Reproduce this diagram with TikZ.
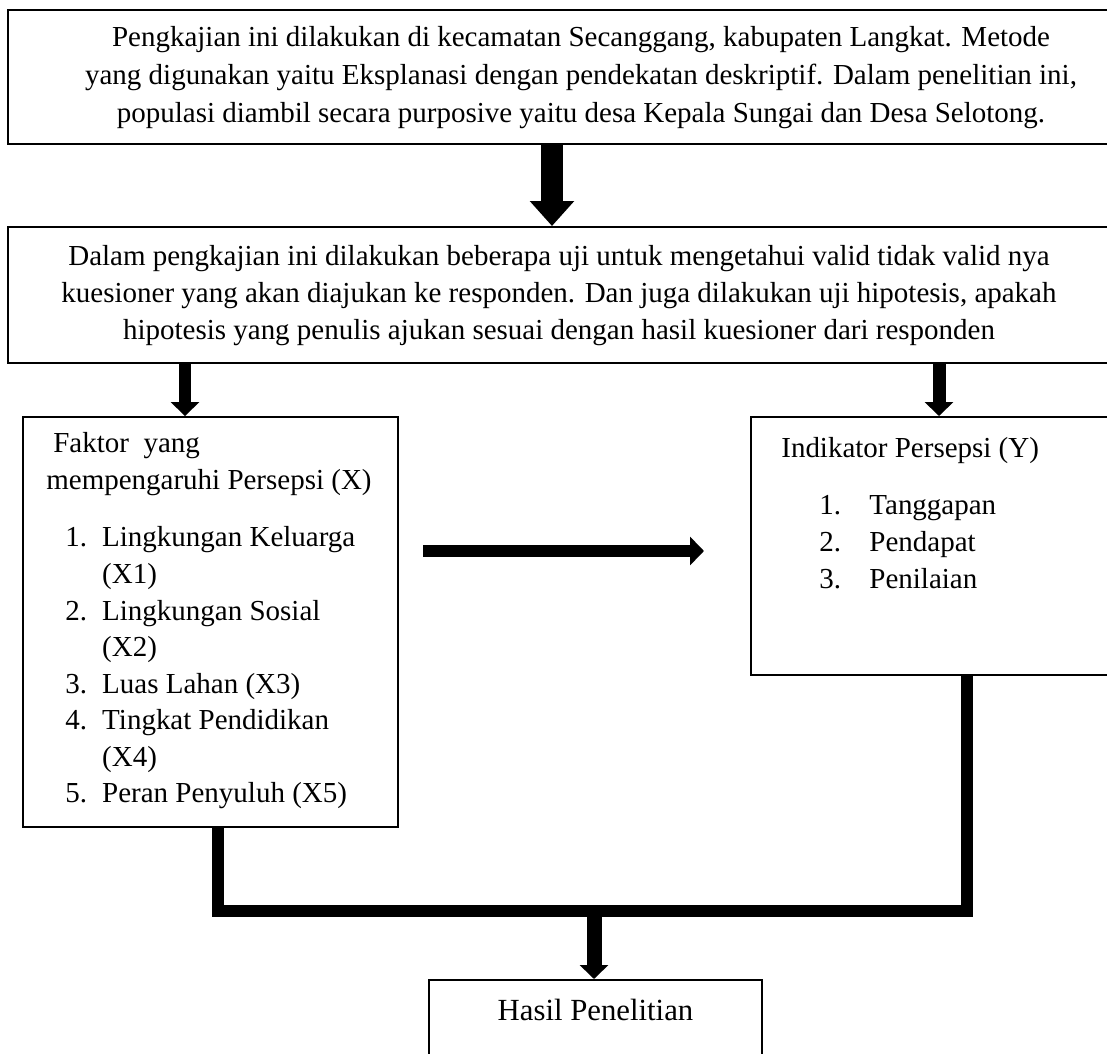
\documentclass[tikz,border=0pt]{standalone}
\usepackage{fontspec}
\setmainfont{Liberation Serif}
\usetikzlibrary{arrows.meta,positioning}

\newcommand{\numx}[1]{\makebox[21pt][l]{#1}}
\newcommand{\numy}[1]{\makebox[28.5pt][l]{#1}}

\tikzset{
  box/.style={draw, rectangle, line width=0.04cm, inner sep=0pt},
  txt/.style={inner sep=0pt, font=\fontsize{16.5}{20.8}\selectfont},
  bigarrow/.style={line width=0.44cm, -{Triangle[length=0.5cm,width=0.86cm]}},
  fatarrow/.style={line width=0.26cm, -{Triangle[length=0.28cm,width=0.56cm]}},
  joinline/.style={line width=0.24cm, line join=miter}
}

\begin{document}
\begin{tikzpicture}[x=0.02cm, y=-0.02cm]
            \useasboundingbox (0,0) rectangle (1107,1054);

            % Top boxes
            \node[box, minimum width=22.92cm, minimum height=2.68cm, font=\fontsize{16.5}{21.5}\selectfont] (kajian) at (581,77)
                {\begin{tabular}{@{}c@{}}Pengkajian ini dilakukan di kecamatan Secanggang, kabupaten Langkat. Metode\\ yang digunakan yaitu Eksplanasi dengan pendekatan deskriptif. Dalam penelitian ini,\\ populasi diambil secara purposive yaitu desa Kepala Sungai dan Desa Selotong.\end{tabular}};
            \node[box, minimum width=22.04cm, minimum height=2.72cm, font=\fontsize{16.5}{21.3}\selectfont] (uji) at (559,295)
                {\begin{tabular}{@{}c@{}}Dalam pengkajian ini dilakukan beberapa uji untuk mengetahui valid tidak valid nya\\ kuesioner yang akan diajukan ke responden. Dan juga dilakukan uji hipotesis, apakah\\ hipotesis yang penulis ajukan sesuai dengan hasil kuesioner dari responden\end{tabular}};

            % Variable boxes
            \node[box, minimum width=7.5cm, minimum height=8.2cm] (faktor) at (210.5,622) {};
            \node[box, minimum width=7.18cm, minimum height=5.16cm] (indikator) at (930.5,546) {};

            \node[txt, anchor=base west] (xhead) at (46,453)
                {\begin{tabular}[t]{@{}l@{}}\hspace*{4pt}Faktor\ \ yang\\ mempengaruhi Persepsi (X)\end{tabular}};
            \node[txt, anchor=base west] (xlist) at (65,547)
                {\begin{tabular}[t]{@{}l@{}}\numx{1.}Lingkungan Keluarga\\ \numx{}(X1)\\ \numx{2.}Lingkungan Sosial\\ \numx{}(X2)\\ \numx{3.}Luas Lahan (X3)\\ \numx{4.}Tingkat Pendidikan\\ \numx{}(X4)\\ \numx{5.}Peran Penyuluh (X5)\end{tabular}};

            \node[txt, anchor=base west] (yhead) at (781,458) {Indikator Persepsi (Y)};
            \node[txt, anchor=base west] (ylist) at (819,515)
                {\begin{tabular}[t]{@{}l@{}}\numy{1.}Tanggapan\\ \numy{2.}Pendapat\\ \numy{3.}Penilaian\end{tabular}};

            % Result
            \node[box, minimum width=6.66cm, minimum height=2.2cm] (hasil) at (595.5,1035) {};
            \node[txt, font=\fontsize{17.5}{21}\selectfont, anchor=base] (hasiltxt) at (595.5,1020) {Hasil Penelitian};

            % Arrows
            \coordinate (c1) at (552,0);
            \coordinate (c2) at (185,0);
            \coordinate (c3) at (939,0);
            \draw[bigarrow] (kajian.south -| c1) -- (uji.north -| c1);
            \draw[fatarrow] (uji.south -| c2) -- (faktor.north -| c2);
            \draw[fatarrow] (uji.south -| c3) -- (indikator.north -| c3);

            \coordinate (ha) at (423,551);
            \coordinate (hb) at (704,551);
            \draw[fatarrow] (ha) -- (hb);

            % Join to result
            \coordinate (j1) at (218,0);
            \coordinate (j2) at (967,0);
            \coordinate (bar) at (594,910.5);
            \draw[joinline] (faktor.south -| j1) |- (bar) -| (indikator.south -| j2);
            \draw[fatarrow, line width=0.3cm] (bar) -- (hasil.north -| bar);
        \end{tikzpicture}
\end{document}
